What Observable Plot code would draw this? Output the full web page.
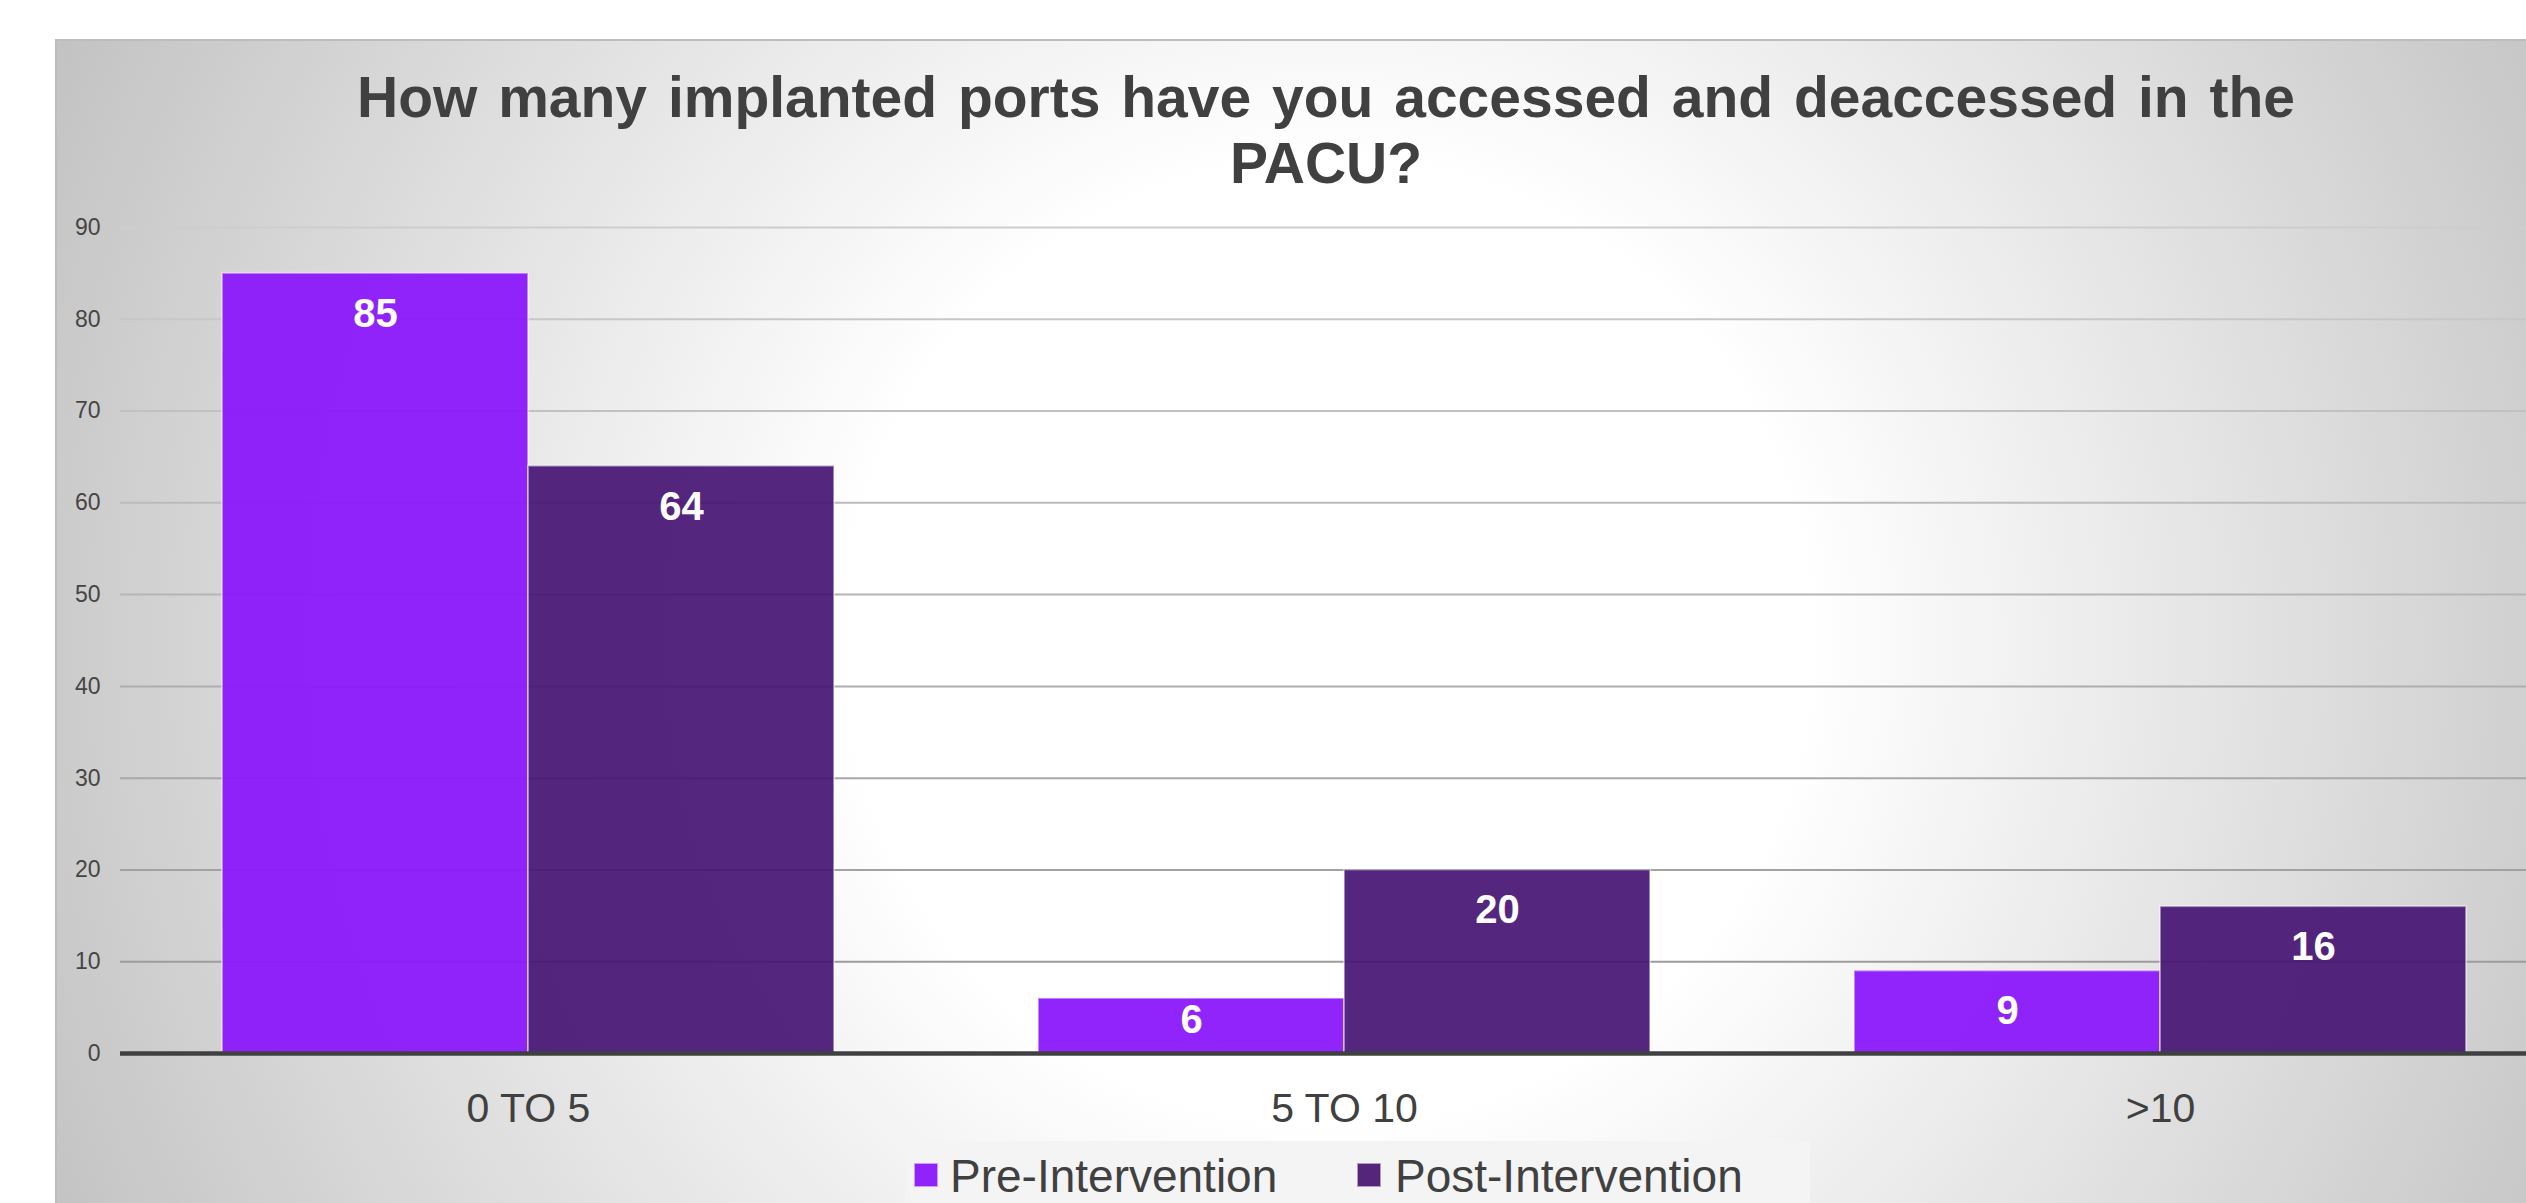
<!DOCTYPE html>
<html>
<head>
<meta charset="utf-8">
<script src="https://cdn.jsdelivr.net/npm/d3@7"></script>
<script src="https://cdn.jsdelivr.net/npm/@observablehq/plot@0.6"></script>
<style>
  html, body { margin: 0; padding: 0; background: #ffffff; width: 2526px; height: 1203px; overflow: hidden; }
  #root { position: relative; width: 2526px; height: 1203px; overflow: hidden; font-family: "Liberation Sans", Arial, sans-serif; }
  #panel { position: absolute; left: 55px; top: 39px; width: 2600px; height: 1260px;
           border-top: 2px solid #bdbdbd; border-left: 2px solid #bdbdbd;
           background: radial-gradient(circle at 1271px 601px, #ffffff 480px, #c3c3c3 1400px); }
  #title { position: absolute; left: 55px; width: 2542px; top: 64px; text-align: center;
           font-weight: bold; font-size: 57px; line-height: 66px; word-spacing: 5px; color: #404040; }
  #chart { position: absolute; left: 0; top: 0; }
  #legendbox { position: absolute; left: 905px; top: 1141px; width: 905px; height: 90px; background: #f4f4f4; }
  .sw { position: absolute; width: 22px; height: 22px; top: 1163px; border: 1px solid rgba(255,255,255,0.55); }
  .lt { position: absolute; top: 1156px; font-size: 46px; line-height: 40px; color: #404040; white-space: nowrap; }
</style>
</head>
<body>
<div id="root">
  <div id="panel"></div>
  <div id="legendbox"></div>
  <div id="title"></div>
  <div id="chart"></div>
  <div id="legend"></div>
</div>
<script>
// ---- data ----
const titleLines = ["How many implanted ports have you accessed and deaccessed in the", "PACU?"];
const categories = ["0 TO 5", "5 TO 10", ">10"];
const seriesNames = ["Pre-Intervention", "Post-Intervention"];
const preValues = [85, 6, 9];
const postValues = [64, 20, 16];
const yTicks = [0, 10, 20, 30, 40, 50, 60, 70, 80, 90];

// ---- styles ----
const PRE = "#8a18fa";
const POST = "#471372";
const gridColor = d3.interpolateRgb("#969696", "#cdcdcd");

const pre = categories.map((c, i) => ({category: c, series: seriesNames[0], value: preValues[i]}));
const post = categories.map((c, i) => ({category: c, series: seriesNames[1], value: postValues[i]}));

const xDef = {type: "band", domain: categories, range: [120, 2568], paddingInner: 0.25, paddingOuter: 0.125, align: 0.5, round: false};
const yDef = {type: "linear", domain: [0, 90], range: [1053, 227]};
const xs = Plot.scale({x: xDef});
const ys = Plot.scale({y: yDef});
const bw = xs.bandwidth;
const fits = d => ys.apply(0) - ys.apply(d.value) >= 74;

document.getElementById("title").innerHTML = titleLines.join("<br>");

const labelStyle = {fill: "white", fontWeight: "bold", fontSize: 40, lineAnchor: "top"};

const chart = Plot.plot({
  width: 2526,
  height: 1203,
  marginLeft: 120,
  marginRight: 0,
  marginTop: 227,
  marginBottom: 150,
  style: {background: "transparent", fontFamily: "Liberation Sans, Arial, sans-serif", overflow: "hidden"},
  x: {...xDef, axis: null},
  y: {...yDef, axis: null},
  color: {type: "identity"},
  marks: [
    Plot.ruleY(yTicks.filter(d => d > 0), {y: d => d, stroke: d => gridColor(d / 90), strokeWidth: 2}),
    Plot.barY(pre, {x: "category", y: "value", fill: PRE, fillOpacity: 0.95, insetRight: bw / 2,
                    stroke: "#ffffff", strokeOpacity: 0.45, strokeWidth: 2}),
    Plot.barY(post, {x: "category", y: "value", fill: POST, fillOpacity: 0.92, insetLeft: bw / 2,
                     stroke: "#ffffff", strokeOpacity: 0.45, strokeWidth: 2}),
    Plot.ruleY([0], {stroke: "#404040", strokeWidth: 4.5}),
    Plot.text(yTicks, {y: d => d, text: d => String(d), frameAnchor: "left", textAnchor: "end",
                       dx: -20, fontSize: 23, fill: "#454545", lineAnchor: "middle"}),
    Plot.text(categories, {x: d => d, text: d => d, frameAnchor: "bottom", dy: 55, fontSize: 41,
                           fill: "#404040", lineAnchor: "middle"}),
    Plot.text(pre.filter(fits), {x: "category", y: "value", text: d => String(d.value), dx: -bw / 4, dy: 25, ...labelStyle}),
    Plot.text(post.filter(fits), {x: "category", y: "value", text: d => String(d.value), dx: bw / 4, dy: 25, ...labelStyle}),
    Plot.text(pre.filter(d => !fits(d)), {x: "category", y: () => 0, text: d => String(d.value), dx: -bw / 4, dy: -49, ...labelStyle}),
    Plot.text(post.filter(d => !fits(d)), {x: "category", y: () => 0, text: d => String(d.value), dx: bw / 4, dy: -49, ...labelStyle})
  ]
});
document.getElementById("chart").appendChild(chart);

// legend
const legend = document.getElementById("legend");
const legendItems = [
  {name: seriesNames[0], color: PRE, opacity: 0.95, sx: 914, tx: 950},
  {name: seriesNames[1], color: POST, opacity: 0.92, sx: 1357, tx: 1395}
];
for (const it of legendItems) {
  const sw = document.createElement("div");
  sw.className = "sw";
  sw.style.left = it.sx + "px";
  sw.style.background = d3.interpolateRgb("#f4f4f4", it.color)(it.opacity);
  legend.appendChild(sw);
  const t = document.createElement("div");
  t.className = "lt";
  t.style.left = it.tx + "px";
  t.textContent = it.name;
  legend.appendChild(t);
}
</script>
</body>
</html>
